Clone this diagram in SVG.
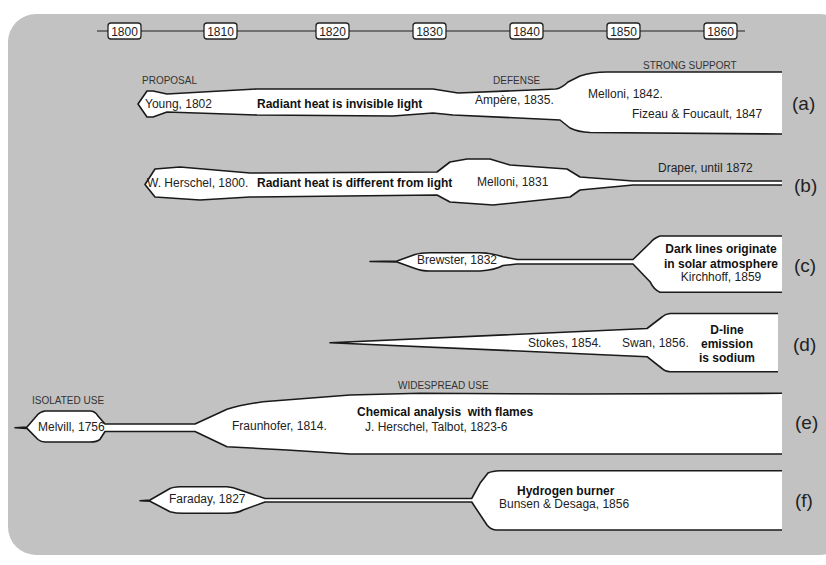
<svg xmlns="http://www.w3.org/2000/svg" width="826" height="565" viewBox="0 0 826 565">
<style>
text{font-family:"Liberation Sans",Arial,sans-serif;fill:#222}
.l{font-size:12px}
.b{font-size:12px;font-weight:bold;fill:#111}
.s{font-size:10px;fill:#333}
.t{font-size:19px}
.c{text-anchor:middle}
.yr{font-size:12px;text-anchor:middle}
.sh{fill:#fff;stroke:#1a1a1a;stroke-width:1.6;stroke-linejoin:round}
.box{fill:#fff;stroke:#222;stroke-width:1.3}
</style>
<rect x="8" y="14" width="840" height="541" rx="28" fill="#c2c2c2"/>
<g id="connectors">
<line x1="97" y1="31" x2="745" y2="31" stroke="#555" stroke-width="1.3"/>
</g>
<g id="timeline">
<rect class="box" x="108" y="23" width="33" height="16" rx="3"/><text class="yr" x="124.5" y="35.5">1800</text>
<rect class="box" x="204" y="23" width="33" height="16" rx="3"/><text class="yr" x="220.5" y="35.5">1810</text>
<rect class="box" x="316" y="23" width="33" height="16" rx="3"/><text class="yr" x="332.5" y="35.5">1820</text>
<rect class="box" x="413" y="23" width="33" height="16" rx="3"/><text class="yr" x="429.5" y="35.5">1830</text>
<rect class="box" x="510" y="23" width="33" height="16" rx="3"/><text class="yr" x="526.5" y="35.5">1840</text>
<rect class="box" x="607" y="23" width="33" height="16" rx="3"/><text class="yr" x="623.5" y="35.5">1850</text>
<rect class="box" x="704" y="23" width="33" height="16" rx="3"/><text class="yr" x="720.5" y="35.5">1860</text>
</g>
<g id="row-a">
<path class="sh" d="M782,72 L607,72 Q592,72 580,76 L568,82 Q562,88 556,89 L458,93 L433,89 L257,89 L167,94 L153,91 L147,91 L138,104 L147,117 L153,117 L167,112 L257,115 L393,116 L433,113 L453,115 L560,120 L570,128 Q578,132 590,132.5 L782,134"/>
<text class="s" x="142" y="84">PROPOSAL</text>
<text class="s" x="493" y="84">DEFENSE</text>
<text class="s" x="643" y="69">STRONG SUPPORT</text>
<text class="l" x="145" y="107.5">Young, 1802</text>
<text class="b" x="257" y="107.5">Radiant heat is invisible light</text>
<text class="l" x="475" y="104">Ampère, 1835.</text>
<text class="l" x="588" y="97.5">Melloni, 1842.</text>
<text class="l" x="632" y="118">Fizeau &amp; Foucault, 1847</text>
<text class="t" x="792" y="110">(a)</text>
</g>
<g id="row-b">
<path class="sh" d="M782,181 L633,181 L580,177 L567,169 L510,165 L490,159 L467,159 L450,162 L437,172 L250,173 L180,167 L155,169 L145,184.5 L155,197 L200,200 L250,197 L437,195 L450,202 L493,205 L570,197 L580,190 L633,185 L782,185"/>
<text class="l" x="147" y="186.5">W. Herschel, 1800.</text>
<text class="b" x="257" y="186.5">Radiant heat is different from light</text>
<text class="l" x="477" y="186">Melloni, 1831</text>
<text class="l" x="658" y="172">Draper, until 1872</text>
<text class="t" x="794" y="192">(b)</text>
</g>
<g id="row-c">
<path class="sh" d="M782,236 L660,236 Q654,238 650,243 L633,259.5 L517,259.5 L503,256.7 Q492,253 480,252.7 L430,252.7 Q420,253 415,254.5 L397,261 L370,261.5 L397,262 L415,268.5 Q421,271 430,271 L480,271 Q495,270 503,265.5 L517,264 L633,264 L650,281.7 Q654,290 660,292.3 L782,292.3"/>
<text class="l" x="417" y="264.3">Brewster, 1832</text>
<text class="b c" x="721" y="253.3">Dark lines originate</text>
<text class="b c" x="721" y="267.7">in solar atmosphere</text>
<text class="l c" x="721" y="280.7">Kirchhoff, 1859</text>
<text class="t" x="794" y="271.5">(c)</text>
</g>
<g id="row-d">
<path class="sh" d="M778,313.5 L670,313.5 Q665,314 662,317 L647,328.5 L330,342.7 L647,356.7 L662,368.5 Q665,371.5 670,371.7 L778,371.7"/>
<text class="l" x="528" y="346.7">Stokes, 1854.</text>
<text class="l" x="622" y="346.7">Swan, 1856.</text>
<text class="b c" x="727" y="334.3">D-line</text>
<text class="b c" x="727" y="348.3">emission</text>
<text class="b c" x="727" y="362.3">is sodium</text>
<text class="t" x="793" y="351">(d)</text>
</g>
<g id="row-e">
<path class="sh" d="M782,393.3 L580,394 L420,393.3 L350,395 L263,401.7 Q240,405 227,409.3 L195,424 L105,424 L98,416 Q95,411 90,411 L45,411 Q40,412 38,414.3 L27,427 L15,427.7 L27,428.4 L38,439.5 Q41,442 45,442 L90,442 Q97,442 100,439.3 L105,431.5 L195,431.5 L227,446.7 L287,450 L350,454 L782,454"/>
<text class="s" x="32" y="404">ISOLATED USE</text>
<text class="s" x="398" y="389">WIDESPREAD USE</text>
<text class="l" x="38" y="431">Melvill, 1756</text>
<text class="l" x="232" y="430">Fraunhofer, 1814.</text>
<text class="b" x="357" y="416" xml:space="preserve">Chemical analysis  with flames</text>
<text class="l" x="365" y="431">J. Herschel, Talbot, 1823-6</text>
<text class="t" x="795" y="429">(e)</text>
</g>
<g id="row-f">
<path class="sh" d="M782,470.7 L500,470.7 Q492,471 488,473 L480,483.3 L471.7,498.5 L265,498.5 L240,490 Q233,487 227,486.7 L180,486.7 Q173,487 170,488.5 L150,500 L140,500.7 L150,501.3 L170,511.7 Q176,513.3 183,513.3 L227,513.3 Q238,513 243,510 L265,502 L471.7,502 L487,525 Q491,530 497,530 L782,530"/>
<text class="l" x="169" y="502.7">Faraday, 1827</text>
<text class="b" x="517" y="495">Hydrogen burner</text>
<text class="l" x="499" y="508.3">Bunsen &amp; Desaga, 1856</text>
<text class="t" x="795" y="507">(f)</text>
</g>
</svg>
